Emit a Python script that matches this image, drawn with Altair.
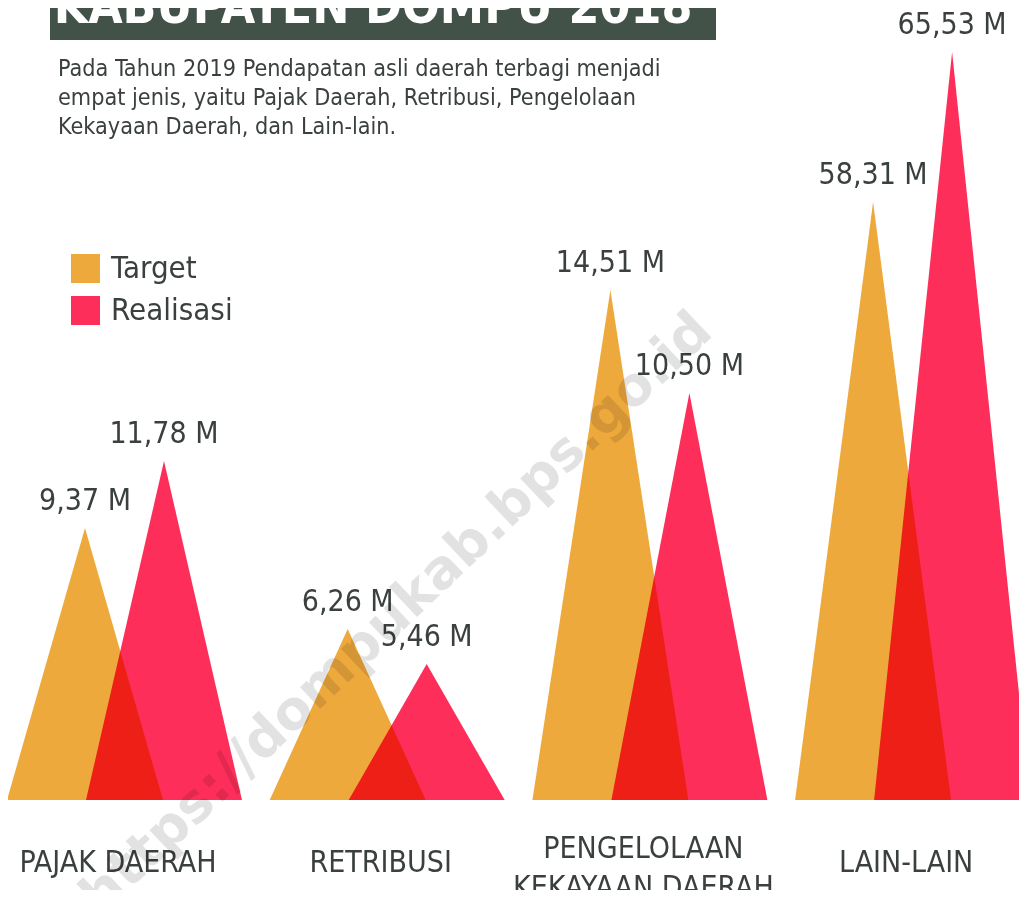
import altair as alt
import pandas as pd

# ---------------- data ----------------
kategori = ["PAJAK DAERAH", "RETRIBUSI", "PENGELOLAAN\nKEKAYAAN DAERAH", "LAIN-LAIN"]
seri = ["Target", "Realisasi"]
target = [9.37, 6.26, 14.51, 58.31]          # miliar rupiah (M)
realisasi = [11.78, 5.46, 10.50, 65.53]
# drawn heights of the triangles in the infographic (not proportional to the values)
tinggi_target = [272, 171, 510, 598]
tinggi_realisasi = [339, 136, 407, 748]

judul = "KABUPATEN DOMPU 2018"
keterangan = [
    "Pada Tahun 2019 Pendapatan asli daerah terbagi menjadi",
    "empat jenis, yaitu Pajak Daerah, Retribusi, Pengelolaan",
    "Kekayaan Daerah, dan Lain-lain.",
]
watermark = "https://dompukab.bps.go.id"

# ---------------- styling ----------------
W, H = 1011, 792
COL_T, COL_R = "#EEA93C", "#FE2E5A"
TXT = "#3A403D"
BANNER = "#435249"
FONT = "DejaVu Sans Condensed"
GROUP = 262.7   # spacing between category groups (x units)
HALF = 78       # half base width of a triangle
SHIFT = 79      # realisasi triangle shifted right of target

def fmt(v):
    return f"{v:.2f}".replace(".", ",") + " M"

tri_rows, lab_rows, cat_rows = [], [], []
for g, cat in enumerate(kategori):
    base0 = g * GROUP
    for s, (name, vals, hs) in enumerate(
        [("Target", target, tinggi_target), ("Realisasi", realisasi, tinggi_realisasi)]
    ):
        left = base0 + s * SHIFT
        tid = f"{g}-{name}"
        for x, h in [(left, 0), (left + HALF, hs[g]), (left + 2 * HALF, 0)]:
            tri_rows.append({"id": tid, "seri": name, "x": x, "h": h})
        lab_rows.append({"x": left + HALF, "h": hs[g], "label": fmt(vals[g])})
    cat_rows.append({"x": base0 + HALF + 33, "kat": cat, "baris": cat.count("\n") + 1})

tri_df = pd.DataFrame(tri_rows)
lab_df = pd.DataFrame(lab_rows)
cat_df = pd.DataFrame(cat_rows)

xs = alt.Scale(domain=[1, 1 + W], nice=False, zero=False)
ys = alt.Scale(domain=[0, H], nice=False)

triangles = alt.Chart(tri_df).mark_area(blend="multiply", opacity=1, interpolate="linear").encode(
    x=alt.X("x:Q", scale=xs, axis=None),
    y=alt.Y("h:Q", scale=ys, axis=None, stack=None),
    color=alt.Color(
        "seri:N",
        scale=alt.Scale(domain=seri, range=[COL_T, COL_R]),
        legend=alt.Legend(
            title=None, orient="none", legendX=62, legendY=245,
            symbolType="square", symbolSize=841, symbolStrokeWidth=0, symbolOpacity=1,
            labelFont=FONT, labelFontSize=31, labelColor=TXT, labelOffset=10,
            rowPadding=10, padding=0,
        ),
    ),
    detail="id:N",
)

values = alt.Chart(lab_df).mark_text(
    font=FONT, fontSize=30, color=TXT, baseline="alphabetic", align="center", dy=-18
).encode(
    x=alt.X("x:Q", scale=xs, axis=None),
    y=alt.Y("h:Q", scale=ys, axis=None),
    text="label:N",
)

cats = alt.Chart(cat_df).mark_text(
    font=FONT, fontSize=30, color=TXT, baseline="middle", align="center",
    lineBreak="\n", lineHeight=39,
).encode(
    x=alt.X("x:Q", scale=xs, axis=None),
    y=alt.value(855),
    yOffset=alt.YOffset("baris:Q", scale=alt.Scale(domain=[1, 2], range=[0, -14])),
    text="kat:N",
)

one = pd.DataFrame({"a": [0]})

banner = alt.Chart(one).mark_rect(color=BANNER).encode(
    x=alt.value(42), x2=alt.value(708), y=alt.value(-8), y2=alt.value(32)
)
title = alt.Chart(one).mark_text(
    font=FONT, fontSize=49.5, fontWeight="bold", color="white",
    align="center", baseline="alphabetic",
).encode(x=alt.value(365), y=alt.value(15), text=alt.value(judul))

sub = alt.Chart(one).mark_text(
    font=FONT, fontSize=23.2, color=TXT, align="left", baseline="top", lineHeight=29,
).encode(x=alt.value(50), y=alt.value(50), text=alt.value(keterangan))

wm = alt.Chart(one).mark_text(
    font="DejaVu Sans", fontSize=54, fontWeight="bold", color="#000000", opacity=0.11,
    align="center", baseline="middle", angle=316.5,
).encode(x=alt.value(389), y=alt.value(606), text=alt.value(watermark))

chart = alt.layer(banner, title, sub, triangles, values, cats, wm).properties(
    width=W, height=H,
    padding={"left": 0, "top": 0, "right": 0, "bottom": 90},
    autosize=alt.AutoSizeParams(type="none"),
    background="white",
).configure_view(stroke=None)

chart.save("out.html", embed_options={"renderer": "svg", "actions": False})
